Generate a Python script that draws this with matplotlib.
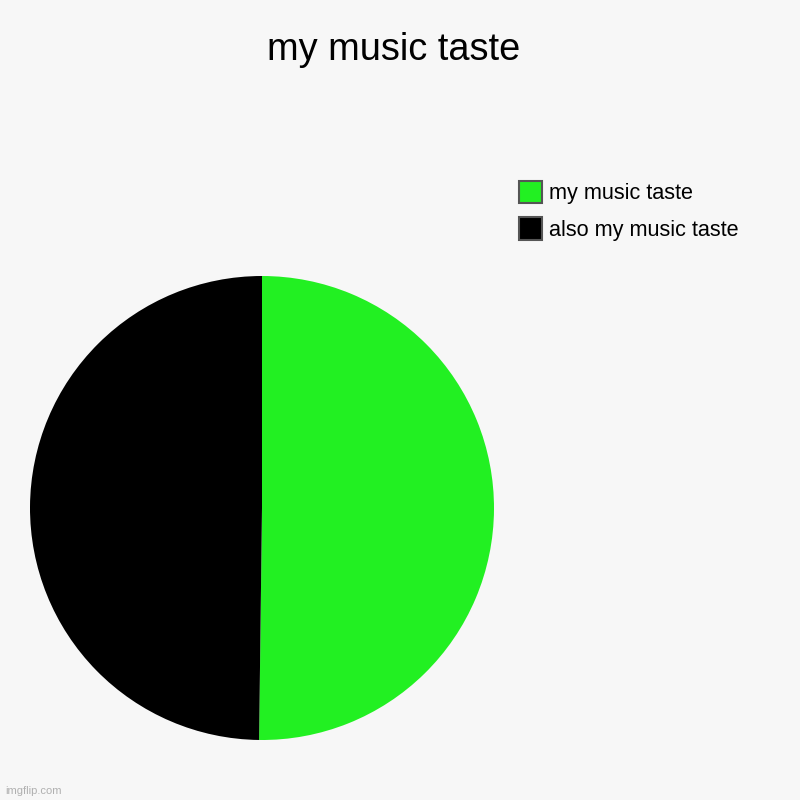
import matplotlib
matplotlib.use("Agg")
import matplotlib.pyplot as plt
from matplotlib.patches import Patch

title = "my music taste"
labels = ["my music taste", "also my music taste"]
values = [50.2, 49.8]
colors = ["#22f022", "#000000"]

plt.rcParams['font.family'] = ['Liberation Sans', 'DejaVu Sans']
bg = "#f7f7f7"
fig = plt.figure(figsize=(8, 8), dpi=100, facecolor=bg)

ax = fig.add_axes([30/800, 60/800, 464/800, 464/800])
ax.set_facecolor(bg)
ax.pie(values, colors=colors, startangle=90, counterclock=False, radius=1)
ax.set_xlim(-1, 1)
ax.set_ylim(-1, 1)
ax.set_aspect('equal')
ax.axis('off')

fig.text(394/800, 1 - 50/800, title, ha='center', va='center', fontsize=27.4, color='#000000')

handles = [Patch(facecolor=c, edgecolor='#555555', linewidth=1.5, label=l) for c, l in zip(colors, labels)]
fig.legend(handles=handles, loc='upper left', bbox_to_anchor=(519/800, 1 - 181/800),
           frameon=False, fontsize=15.6, handlelength=1.08, handleheight=1.2,
           handletextpad=0.3, labelspacing=0.6, borderpad=0, borderaxespad=0)

fig.text(5/800, 1 - 791/800, "imgflip.com", ha='left', va='center', fontsize=8, color='#b0b0b0')

fig.savefig("out.png", dpi=100, facecolor=bg)
